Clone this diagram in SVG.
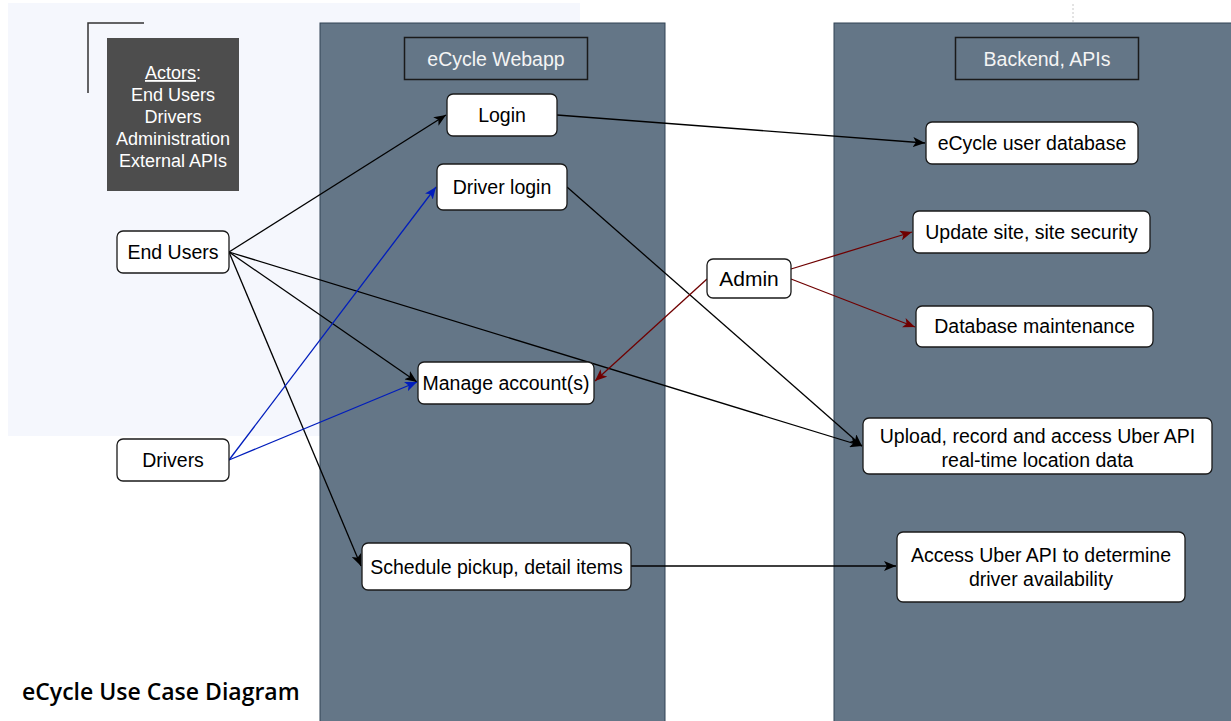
<svg xmlns="http://www.w3.org/2000/svg" width="1231" height="721" viewBox="0 0 1231 721">
<style>
.node{fill:#ffffff;stroke:#1a1a1a;stroke-width:1.3}
.t{font-family:"Liberation Sans",Arial,sans-serif;font-size:19.5px;fill:#000;text-anchor:middle}
.hdr{fill:none;stroke:#1a1a1a;stroke-width:1.5}
.ht{font-family:"Liberation Sans",Arial,sans-serif;font-size:19.5px;fill:#f4f4f4;text-anchor:middle}
.at{font-family:"Liberation Sans",Arial,sans-serif;font-size:18px;fill:#ffffff;text-anchor:middle}
.col{fill:#647687;stroke:#314354;stroke-width:1}
.ck{fill:none;stroke:#000;stroke-width:1.3}
.cb{fill:none;stroke:#001DBC;stroke-width:1.3}
.cr{fill:none;stroke:#6F0000;stroke-width:1.3}
</style>
<defs>
<marker id="ak" markerUnits="userSpaceOnUse" markerWidth="13" markerHeight="10" refX="12" refY="5" orient="auto"><path d="M0,0 L12,5 L0,10 L3,5 Z" fill="#000"/></marker>
<marker id="ab" markerUnits="userSpaceOnUse" markerWidth="13" markerHeight="10" refX="12" refY="5" orient="auto"><path d="M0,0 L12,5 L0,10 L3,5 Z" fill="#001DBC"/></marker>
<marker id="ar" markerUnits="userSpaceOnUse" markerWidth="13" markerHeight="10" refX="12" refY="5" orient="auto"><path d="M0,0 L12,5 L0,10 L3,5 Z" fill="#6F0000"/></marker>
</defs>
<rect x="0" y="0" width="1231" height="721" fill="#ffffff"/>
<g id="background">
<rect x="8" y="3" width="572" height="433" fill="#f5f7fd"/>
<path d="M88,93 V23 H144" fill="none" stroke="#333" stroke-width="1.5"/>
<line x1="1073" y1="4" x2="1073" y2="22" stroke="#c8c8c8" stroke-width="1" stroke-dasharray="2,2"/>
</g>
<g id="webapp-column">
<rect class="col" x="320" y="23" width="345" height="710"/>
<rect class="hdr" x="404.5" y="37.5" width="183" height="42"/>
<text class="ht" x="496" y="66">eCycle Webapp</text>
</g>
<g id="backend-column">
<rect class="col" x="834" y="23" width="410" height="710"/>
<rect class="hdr" x="955.5" y="37.5" width="183" height="42"/>
<text class="ht" x="1047" y="66">Backend, APIs</text>
</g>
<g id="actors">
<rect x="107" y="38" width="132" height="153" fill="#4d4d4d"/>
<text class="at" x="173" y="79"><tspan text-decoration="underline">Actors</tspan>:</text>
<text class="at" x="173" y="101">End Users</text>
<text class="at" x="173" y="123">Drivers</text>
<text class="at" x="173" y="145">Administration</text>
<text class="at" x="173" y="167">External APIs</text>
</g>
<g id="connectors">
<line class="ck" x1="229" y1="252" x2="446" y2="115" marker-end="url(#ak)"/>
<line class="ck" x1="229" y1="252" x2="417" y2="382" marker-end="url(#ak)"/>
<line class="ck" x1="229" y1="252" x2="862" y2="446" marker-end="url(#ak)"/>
<line class="ck" x1="229" y1="252" x2="361" y2="566" marker-end="url(#ak)"/>
<line class="cb" x1="229" y1="460" x2="436" y2="187" marker-end="url(#ab)"/>
<line class="cb" x1="229" y1="460" x2="417" y2="382" marker-end="url(#ab)"/>
<line class="ck" x1="567" y1="187" x2="862" y2="446" marker-end="url(#ak)"/>
<line class="ck" x1="557" y1="115" x2="925" y2="143" marker-end="url(#ak)"/>
<line class="cr" x1="707" y1="279" x2="595" y2="381" marker-end="url(#ar)"/>
<line class="cr" x1="791" y1="269" x2="912" y2="232" marker-end="url(#ar)"/>
<line class="cr" x1="791" y1="279" x2="915" y2="327" marker-end="url(#ar)"/>
<line class="ck" x1="631" y1="566" x2="896" y2="566" marker-end="url(#ak)"/>
</g>
<g id="end-users"><rect class="node" x="117" y="231" width="112" height="42" rx="6"/><text class="t" x="173" y="259">End Users</text></g>
<g id="drivers"><rect class="node" x="117" y="439" width="112" height="42" rx="6"/><text class="t" x="173" y="467">Drivers</text></g>
<g id="login"><rect class="node" x="447" y="94" width="110" height="42" rx="6"/><text class="t" x="502" y="122">Login</text></g>
<g id="driver-login"><rect class="node" x="437" y="164" width="130" height="46" rx="6"/><text class="t" x="502" y="194">Driver login</text></g>
<g id="manage-accounts"><rect class="node" x="418" y="362" width="176" height="42" rx="6"/><text class="t" x="506" y="390">Manage account(s)</text></g>
<g id="schedule-pickup"><rect class="node" x="362" y="543" width="269" height="47" rx="6"/><text class="t" x="496.5" y="574">Schedule pickup, detail items</text></g>
<g id="admin"><rect class="node" x="707" y="259" width="84" height="39" rx="6"/><text class="t" x="749" y="286" style="font-size:21px">Admin</text></g>
<g id="user-database"><rect class="node" x="926" y="122" width="212" height="42" rx="6"/><text class="t" x="1032" y="150">eCycle user database</text></g>
<g id="update-site"><rect class="node" x="913" y="211" width="237" height="42" rx="6"/><text class="t" x="1031.5" y="239">Update site, site security</text></g>
<g id="db-maintenance"><rect class="node" x="916" y="306" width="237" height="41" rx="6"/><text class="t" x="1034.5" y="333">Database maintenance</text></g>
<g id="uber-location"><rect class="node" x="863" y="418" width="349" height="56" rx="6"/><text class="t" x="1037.5" y="443">Upload, record and access Uber API</text><text class="t" x="1037.5" y="467">real-time location data</text></g>
<g id="uber-availability"><rect class="node" x="897" y="532" width="288" height="70" rx="6"/><text class="t" x="1041" y="562">Access Uber API to determine</text><text class="t" x="1041" y="586">driver availability</text></g>
<g id="title"><text x="22" y="700" font-family="Open Sans, Noto Sans, sans-serif" font-weight="600" font-size="23" fill="#000">eCycle Use Case Diagram</text></g>
</svg>
